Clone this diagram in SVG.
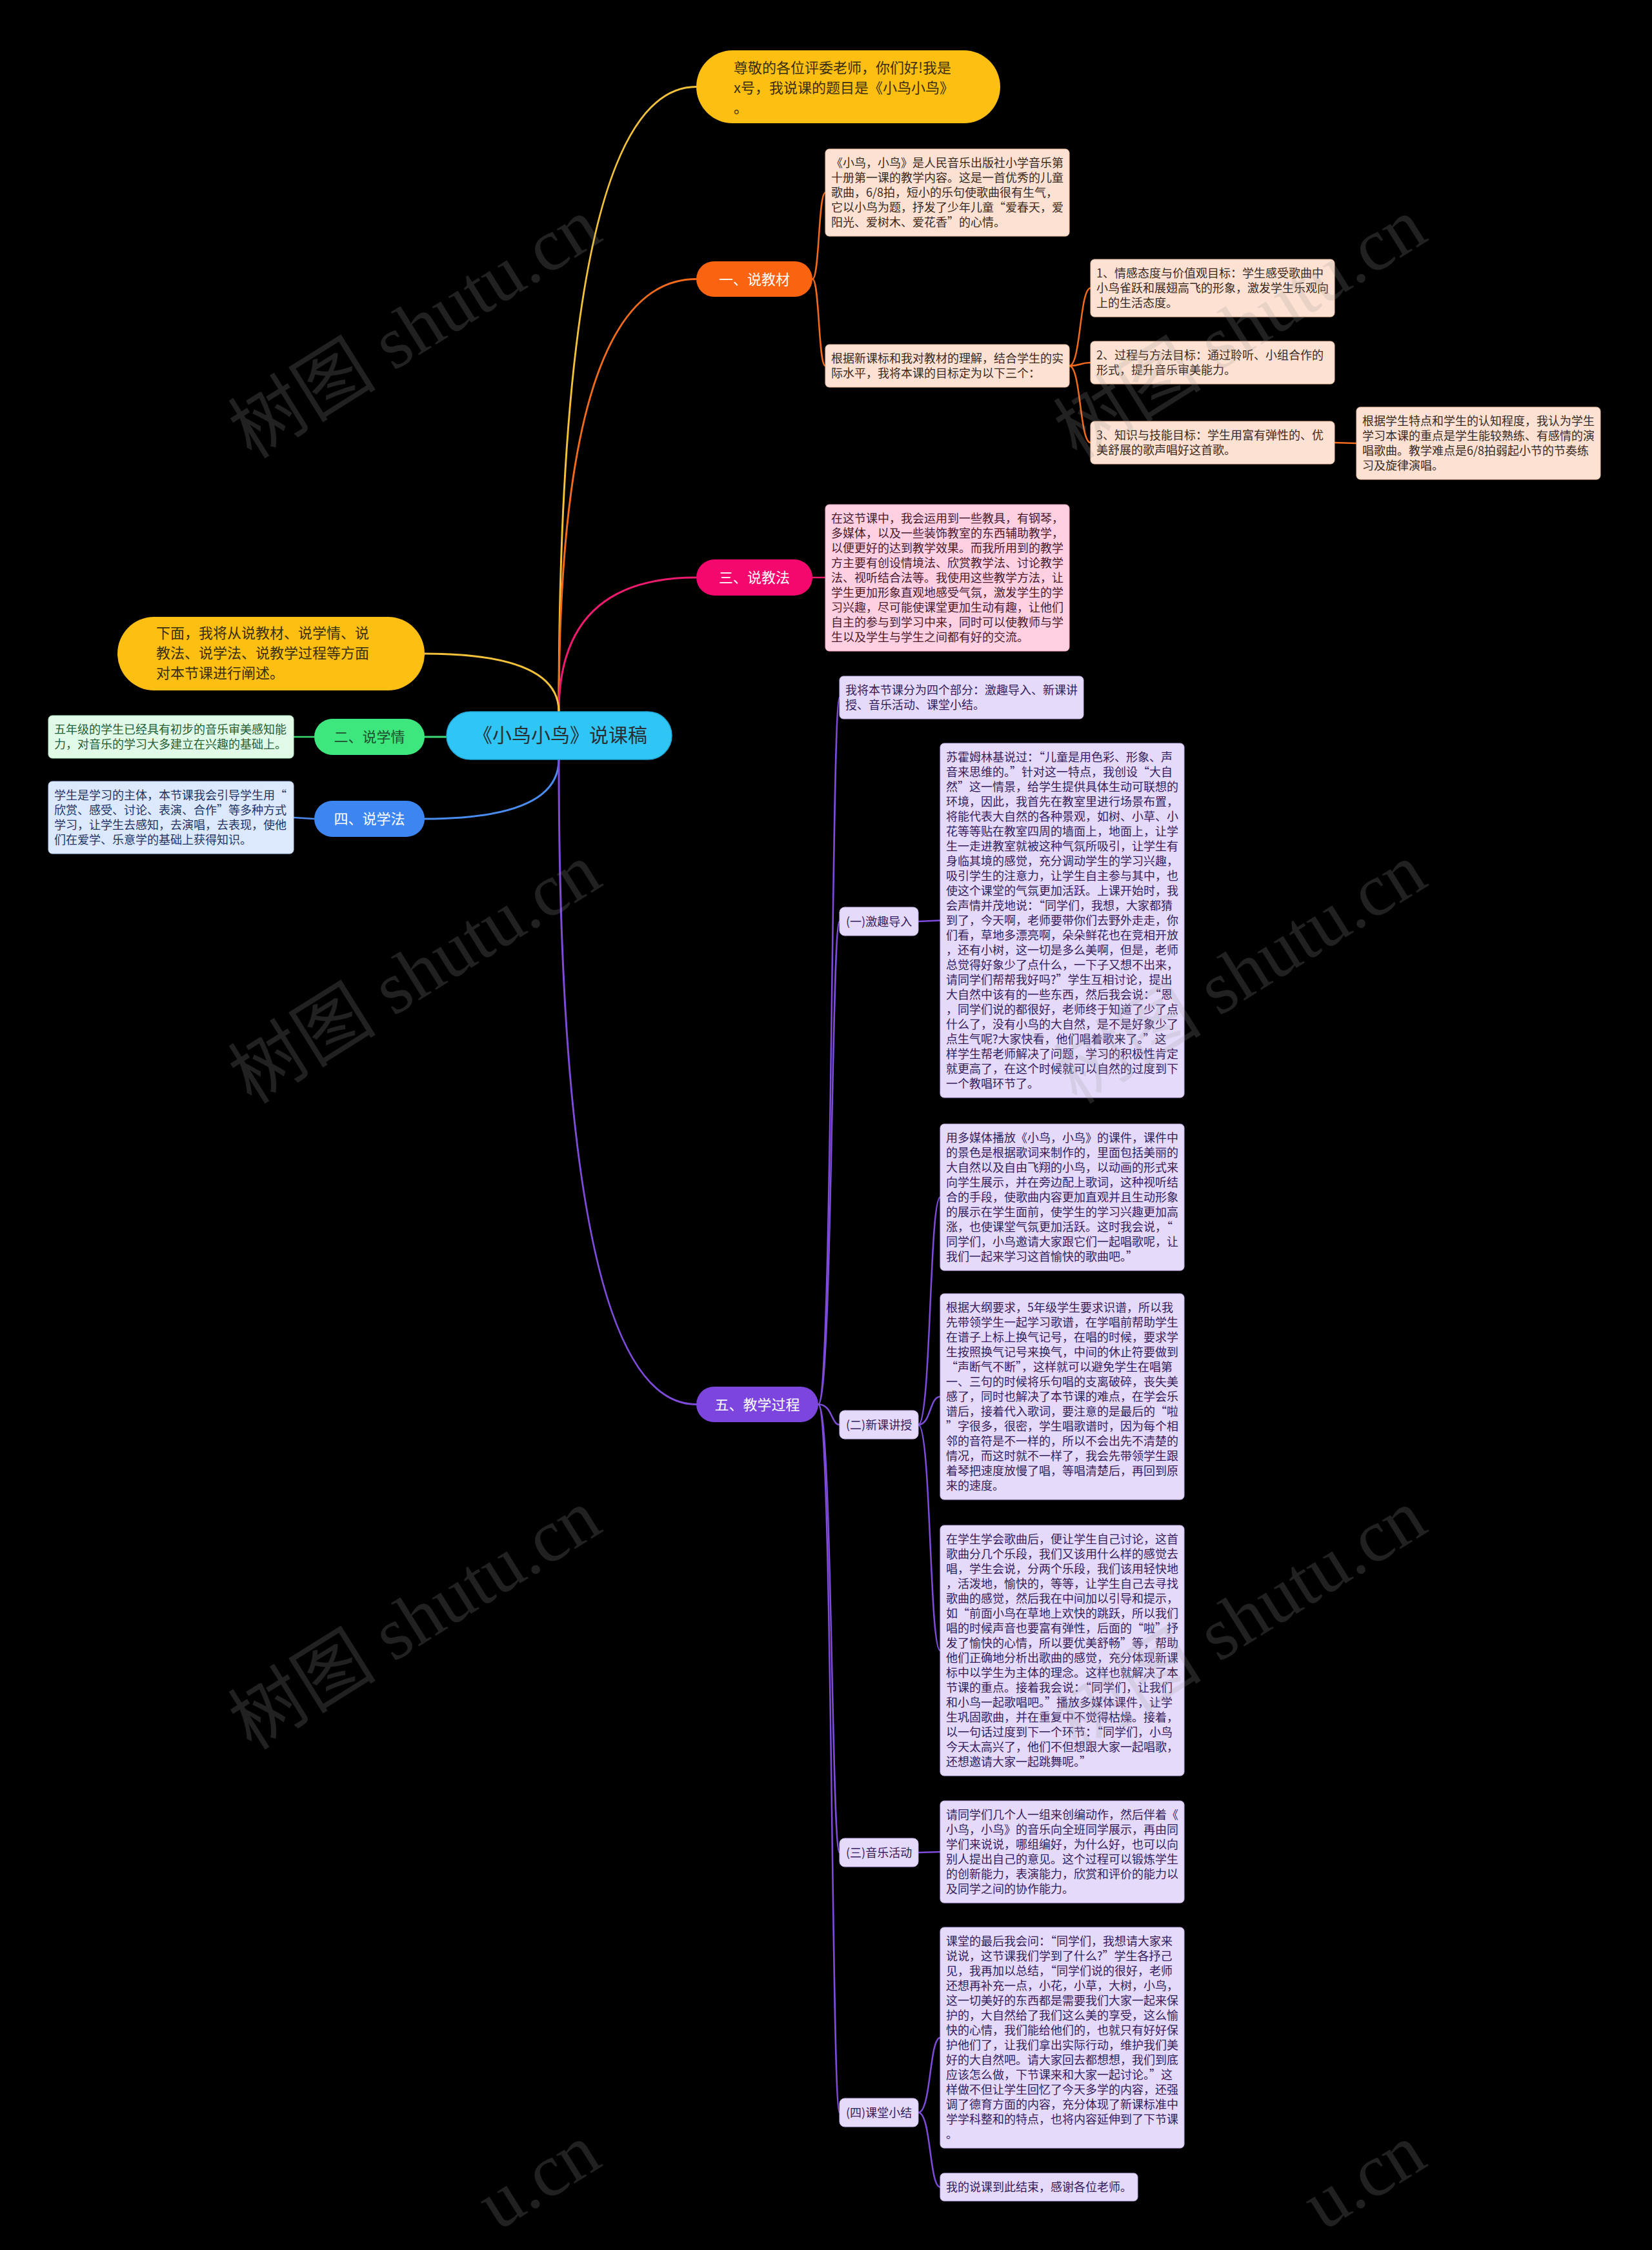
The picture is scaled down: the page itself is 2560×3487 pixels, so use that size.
<svg xmlns="http://www.w3.org/2000/svg" width="2560" height="3487" viewBox="0 0 2560 3487">
<style>
text { font-family: "Noto Sans CJK SC", "Noto Sans", sans-serif; }
.t { font-size: 18px; }
.b22 { font-size: 22px; }
.orgBox { fill: #FDE1D2; stroke: #F3C2A6; stroke-width: 1; }
.orgTxt { fill: #3A2B22; }
.pinkBox { fill: #FFD0E2; stroke: #F4A9C6; stroke-width: 1; }
.pinkTxt { fill: #4A1A2E; }
.grnBox { fill: #E1FAE8; stroke: #B8EDC8; stroke-width: 1; }
.grnTxt { fill: #245E35; }
.bluBox { fill: #DCE8FC; stroke: #B5CDF4; stroke-width: 1; }
.bluTxt { fill: #1E3566; }
.purBox { fill: #E5DAFA; stroke: #C9B6F0; stroke-width: 1; }
.purTxt { fill: #35205E; }
.conn path { fill: none; stroke-linecap: round; }
.wm { font-family: "Liberation Serif", "Noto Sans CJK SC", serif; font-size: 115px; fill: #9a9a9a; fill-opacity: 0.21; }
</style>
<rect x="0" y="0" width="2560" height="3487" fill="#000000"/>

<g id="connectors" class="conn">
  <path d="M 866 1103 Q 866 134.5 1079 134.5" stroke="#F4C23A" stroke-width="3"/>
  <path d="M 866 1103 Q 866 432.5 1079 432.5" stroke="#F26A1B" stroke-width="3"/>
  <path d="M 866 1103 Q 866 895 1079 895" stroke="#EC1B6E" stroke-width="3"/>
  <path d="M 658 1013 Q 866 1013 866 1103" stroke="#F4C23A" stroke-width="3"/>
  <path d="M 658 1142 L 692 1142" stroke="#3BD873" stroke-width="3"/>
  <path d="M 658 1269 Q 866 1269 866 1177" stroke="#4A8CF0" stroke-width="3"/>
  <path d="M 866 1177 Q 866 2176.5 1079 2176.5" stroke="#7E4BDA" stroke-width="3"/>
  <path d="M 455 1142 L 487 1142" stroke="#3BD873" stroke-width="2.5"/>
  <path d="M 455 1267 L 487 1269" stroke="#4A8CF0" stroke-width="2.5"/>
  <path d="M 1259 432.5 C 1270 432.5 1268 298.5 1279 298.5" stroke="#F26A1B" stroke-width="2.5"/>
  <path d="M 1259 432.5 C 1270 432.5 1268 567 1279 567" stroke="#F26A1B" stroke-width="2.5"/>
  <path d="M 1657 567 C 1675 567 1673 446.5 1690 446.5" stroke="#F26A1B" stroke-width="2.5"/>
  <path d="M 1657 567 C 1675 567 1673 562 1690 562" stroke="#F26A1B" stroke-width="2.5"/>
  <path d="M 1657 567 C 1675 567 1673 686 1690 686" stroke="#F26A1B" stroke-width="2.5"/>
  <path d="M 2068 686 L 2102 687" stroke="#F26A1B" stroke-width="2.5"/>
  <path d="M 1259 895 L 1279 895" stroke="#EC1B6E" stroke-width="2.5"/>
  <path d="M 1268 2176.5 C 1290 2176.5 1288 1081 1301 1081" stroke="#7E4BDA" stroke-width="2.5"/>
  <path d="M 1268 2176.5 C 1290 2176.5 1288 1428 1301 1428" stroke="#7E4BDA" stroke-width="2.5"/>
  <path d="M 1268 2176.5 C 1290 2176.5 1288 2208 1301 2208" stroke="#7E4BDA" stroke-width="2.5"/>
  <path d="M 1268 2176.5 C 1290 2176.5 1288 2871 1301 2871" stroke="#7E4BDA" stroke-width="2.5"/>
  <path d="M 1268 2176.5 C 1290 2176.5 1288 3274 1301 3274" stroke="#7E4BDA" stroke-width="2.5"/>
  <path d="M 1423 1428 L 1457 1426.5" stroke="#7E4BDA" stroke-width="2.5"/>
  <path d="M 1423 2208 C 1443 2208 1440 1855.5 1457 1855.5" stroke="#7E4BDA" stroke-width="2.5"/>
  <path d="M 1423 2208 C 1443 2208 1440 2164.5 1457 2164.5" stroke="#7E4BDA" stroke-width="2.5"/>
  <path d="M 1423 2208 C 1443 2208 1440 2558 1457 2558" stroke="#7E4BDA" stroke-width="2.5"/>
  <path d="M 1423 2871 L 1457 2870" stroke="#7E4BDA" stroke-width="2.5"/>
  <path d="M 1423 3274 C 1443 3274 1440 3158 1457 3158" stroke="#7E4BDA" stroke-width="2.5"/>
  <path d="M 1423 3274 C 1443 3274 1440 3389.5 1457 3389.5" stroke="#7E4BDA" stroke-width="2.5"/>
</g>

<g id="center">
  <rect x="692" y="1103" width="349" height="74" rx="37" fill="#2FC6F5" stroke="#22A9D8" stroke-width="1.5"/>
  <text x="868" y="1150" font-size="30" text-anchor="middle" fill="#2A2F33">《小鸟小鸟》说课稿</text>
</g>

<g id="intro">
  <rect x="1079" y="78" width="471" height="113" rx="56.5" fill="#FDBF12"/>
  <text class="b22" fill="#3A2E12">
    <tspan x="1137" y="113">尊敬的各位评委老师，你们好!我是</tspan>
    <tspan x="1137" y="144">x号，我说课的题目是《小鸟小鸟》</tspan>
    <tspan x="1137" y="175">。</tspan>
  </text>
</g>

<g id="overview">
  <rect x="182" y="956" width="476" height="114" rx="57" fill="#FDBF12"/>
  <text class="b22" fill="#3A2E12">
    <tspan x="242" y="989">下面，我将从说教材、说学情、说</tspan>
    <tspan x="242" y="1020">教法、说学法、说教学过程等方面</tspan>
    <tspan x="242" y="1051">对本节课进行阐述。</tspan>
  </text>
</g>

<g id="b1">
  <rect x="1079" y="405" width="180" height="55" rx="27.5" fill="#FA6410"/>
  <text class="b22" x="1169" y="440.5" text-anchor="middle" fill="#FFFFFF">一、说教材</text>
</g>
<g id="b1-text">
  <rect class="orgBox" x="1279" y="231" width="378" height="135" rx="6"/>
  <text class="t orgTxt">
    <tspan x="1288" y="259">《小鸟，小鸟》是人民音乐出版社小学音乐第</tspan>
    <tspan x="1288" y="282">十册第一课的教学内容。这是一首优秀的儿童</tspan>
    <tspan x="1288" y="305">歌曲，6/8拍，短小的乐句使歌曲很有生气，</tspan>
    <tspan x="1288" y="328">它以小鸟为题，抒发了少年儿童“爱春天，爱</tspan>
    <tspan x="1288" y="351">阳光、爱树木、爱花香”的心情。</tspan>
  </text>
</g>
<g id="b1-goals">
  <rect class="orgBox" x="1279" y="534" width="378" height="66" rx="6"/>
  <text class="t orgTxt">
    <tspan x="1288" y="562">根据新课标和我对教材的理解，结合学生的实</tspan>
    <tspan x="1288" y="585">际水平，我将本课的目标定为以下三个：</tspan>
  </text>
</g>
<g id="goal1">
  <rect class="orgBox" x="1690" y="402" width="378" height="89" rx="6"/>
  <text class="t orgTxt">
    <tspan x="1699" y="430">1、情感态度与价值观目标：学生感受歌曲中</tspan>
    <tspan x="1699" y="453">小鸟雀跃和展翅高飞的形象，激发学生乐观向</tspan>
    <tspan x="1699" y="476">上的生活态度。</tspan>
  </text>
</g>
<g id="goal2">
  <rect class="orgBox" x="1690" y="529" width="378" height="66" rx="6"/>
  <text class="t orgTxt">
    <tspan x="1699" y="557">2、过程与方法目标：通过聆听、小组合作的</tspan>
    <tspan x="1699" y="580">形式，提升音乐审美能力。</tspan>
  </text>
</g>
<g id="goal3">
  <rect class="orgBox" x="1690" y="653" width="378" height="66" rx="6"/>
  <text class="t orgTxt">
    <tspan x="1699" y="681">3、知识与技能目标：学生用富有弹性的、优</tspan>
    <tspan x="1699" y="704">美舒展的歌声唱好这首歌。</tspan>
  </text>
</g>
<g id="keypoints">
  <rect class="orgBox" x="2102" y="631" width="378" height="112" rx="6"/>
  <text class="t orgTxt">
    <tspan x="2111" y="659">根据学生特点和学生的认知程度，我认为学生</tspan>
    <tspan x="2111" y="682">学习本课的重点是学生能较熟练、有感情的演</tspan>
    <tspan x="2111" y="705">唱歌曲。教学难点是6/8拍弱起小节的节奏练</tspan>
    <tspan x="2111" y="728">习及旋律演唱。</tspan>
  </text>
</g>

<g id="b3">
  <rect x="1079" y="867" width="180" height="56" rx="28" fill="#F5086E"/>
  <text class="b22" x="1169" y="903" text-anchor="middle" fill="#FFFFFF">三、说教法</text>
</g>
<g id="b3-text">
  <rect class="pinkBox" x="1279" y="782" width="378" height="227" rx="6"/>
  <text class="t pinkTxt">
    <tspan x="1288" y="810">在这节课中，我会运用到一些教具，有钢琴，</tspan>
    <tspan x="1288" y="833">多媒体，以及一些装饰教室的东西辅助教学，</tspan>
    <tspan x="1288" y="856">以便更好的达到教学效果。而我所用到的教学</tspan>
    <tspan x="1288" y="879">方主要有创设情境法、欣赏教学法、讨论教学</tspan>
    <tspan x="1288" y="902">法、视听结合法等。我使用这些教学方法，让</tspan>
    <tspan x="1288" y="925">学生更加形象直观地感受气氛，激发学生的学</tspan>
    <tspan x="1288" y="948">习兴趣，尽可能使课堂更加生动有趣，让他们</tspan>
    <tspan x="1288" y="971">自主的参与到学习中来，同时可以使教师与学</tspan>
    <tspan x="1288" y="994">生以及学生与学生之间都有好的交流。</tspan>
  </text>
</g>

<g id="b2">
  <rect x="487" y="1114" width="171" height="56" rx="28" fill="#3EE67E"/>
  <text class="b22" x="572.5" y="1150" text-anchor="middle" fill="#1F4E2C">二、说学情</text>
</g>
<g id="b2-text">
  <rect class="grnBox" x="75" y="1109" width="380" height="66" rx="6"/>
  <text class="t grnTxt">
    <tspan x="84" y="1137">五年级的学生已经具有初步的音乐审美感知能</tspan>
    <tspan x="84" y="1160">力，对音乐的学习大多建立在兴趣的基础上。</tspan>
  </text>
</g>

<g id="b4">
  <rect x="487" y="1241" width="171" height="56" rx="28" fill="#3D86F2"/>
  <text class="b22" x="572.5" y="1277" text-anchor="middle" fill="#FFFFFF">四、说学法</text>
</g>
<g id="b4-text">
  <rect class="bluBox" x="75" y="1211" width="380" height="112" rx="6"/>
  <text class="t bluTxt">
    <tspan x="84" y="1239">学生是学习的主体，本节课我会引导学生用“</tspan>
    <tspan x="84" y="1262">欣赏、感受、讨论、表演、合作”等多种方式</tspan>
    <tspan x="84" y="1285">学习，让学生去感知，去演唱，去表现，使他</tspan>
    <tspan x="84" y="1308">们在爱学、乐意学的基础上获得知识。</tspan>
  </text>
</g>

<g id="b5">
  <rect x="1079" y="2149" width="189" height="55" rx="27.5" fill="#7B45DE"/>
  <text class="b22" x="1173.5" y="2184.5" text-anchor="middle" fill="#FFFFFF">五、教学过程</text>
</g>
<g id="b5-parts">
  <rect class="purBox" x="1301" y="1048" width="378" height="66" rx="6"/>
  <text class="t purTxt">
    <tspan x="1310" y="1076">我将本节课分为四个部分：激趣导入、新课讲</tspan>
    <tspan x="1310" y="1099">授、音乐活动、课堂小结。</tspan>
  </text>
</g>

<g id="s1">
  <rect class="purBox" x="1301" y="1406" width="122" height="44" rx="8"/>
  <text class="t purTxt" x="1311" y="1434.5">(一)激趣导入</text>
</g>
<g id="s1-text">
  <rect class="purBox" x="1457" y="1152" width="378" height="549" rx="6"/>
  <text class="t purTxt">
    <tspan x="1466" y="1180">苏霍姆林基说过：“儿童是用色彩、形象、声</tspan>
    <tspan x="1466" y="1203">音来思维的。”针对这一特点，我创设“大自</tspan>
    <tspan x="1466" y="1226">然”这一情景，给学生提供具体生动可联想的</tspan>
    <tspan x="1466" y="1249">环境，因此，我首先在教室里进行场景布置，</tspan>
    <tspan x="1466" y="1272">将能代表大自然的各种景观，如树、小草、小</tspan>
    <tspan x="1466" y="1295">花等等贴在教室四周的墙面上，地面上，让学</tspan>
    <tspan x="1466" y="1318">生一走进教室就被这种气氛所吸引，让学生有</tspan>
    <tspan x="1466" y="1341">身临其境的感觉，充分调动学生的学习兴趣，</tspan>
    <tspan x="1466" y="1364">吸引学生的注意力，让学生自主参与其中，也</tspan>
    <tspan x="1466" y="1387">使这个课堂的气氛更加活跃。上课开始时，我</tspan>
    <tspan x="1466" y="1410">会声情并茂地说：“同学们，我想，大家都猜</tspan>
    <tspan x="1466" y="1433">到了，今天啊，老师要带你们去野外走走，你</tspan>
    <tspan x="1466" y="1456">们看，草地多漂亮啊，朵朵鲜花也在竞相开放</tspan>
    <tspan x="1466" y="1479">，还有小树，这一切是多么美啊，但是，老师</tspan>
    <tspan x="1466" y="1502">总觉得好象少了点什么，一下子又想不出来，</tspan>
    <tspan x="1466" y="1525">请同学们帮帮我好吗?”学生互相讨论，提出</tspan>
    <tspan x="1466" y="1548">大自然中该有的一些东西，然后我会说：“恩</tspan>
    <tspan x="1466" y="1571">，同学们说的都很好，老师终于知道了少了点</tspan>
    <tspan x="1466" y="1594">什么了，没有小鸟的大自然，是不是好象少了</tspan>
    <tspan x="1466" y="1617">点生气呢?大家快看，他们唱着歌来了。”这</tspan>
    <tspan x="1466" y="1640">样学生帮老师解决了问题，学习的积极性肯定</tspan>
    <tspan x="1466" y="1663">就更高了，在这个时候就可以自然的过度到下</tspan>
    <tspan x="1466" y="1686">一个教唱环节了。</tspan>
  </text>
</g>

<g id="s2">
  <rect class="purBox" x="1301" y="2186" width="122" height="44" rx="8"/>
  <text class="t purTxt" x="1311" y="2214.5">(二)新课讲授</text>
</g>
<g id="s2-text1">
  <rect class="purBox" x="1457" y="1742" width="378" height="227" rx="6"/>
  <text class="t purTxt">
    <tspan x="1466" y="1770">用多媒体播放《小鸟，小鸟》的课件，课件中</tspan>
    <tspan x="1466" y="1793">的景色是根据歌词来制作的，里面包括美丽的</tspan>
    <tspan x="1466" y="1816">大自然以及自由飞翔的小鸟，以动画的形式来</tspan>
    <tspan x="1466" y="1839">向学生展示，并在旁边配上歌词，这种视听结</tspan>
    <tspan x="1466" y="1862">合的手段，使歌曲内容更加直观并且生动形象</tspan>
    <tspan x="1466" y="1885">的展示在学生面前，使学生的学习兴趣更加高</tspan>
    <tspan x="1466" y="1908">涨，也使课堂气氛更加活跃。这时我会说，“</tspan>
    <tspan x="1466" y="1931">同学们，小鸟邀请大家跟它们一起唱歌呢，让</tspan>
    <tspan x="1466" y="1954">我们一起来学习这首愉快的歌曲吧。”</tspan>
  </text>
</g>
<g id="s2-text2">
  <rect class="purBox" x="1457" y="2005" width="378" height="319" rx="6"/>
  <text class="t purTxt">
    <tspan x="1466" y="2033">根据大纲要求，5年级学生要求识谱，所以我</tspan>
    <tspan x="1466" y="2056">先带领学生一起学习歌谱，在学唱前帮助学生</tspan>
    <tspan x="1466" y="2079">在谱子上标上换气记号，在唱的时候，要求学</tspan>
    <tspan x="1466" y="2102">生按照换气记号来换气，中间的休止符要做到</tspan>
    <tspan x="1466" y="2125">“声断气不断”，这样就可以避免学生在唱第</tspan>
    <tspan x="1466" y="2148">一、三句的时候将乐句唱的支离破碎，丧失美</tspan>
    <tspan x="1466" y="2171">感了，同时也解决了本节课的难点，在学会乐</tspan>
    <tspan x="1466" y="2194">谱后，接着代入歌词，要注意的是最后的“啦</tspan>
    <tspan x="1466" y="2217">”字很多，很密，学生唱歌谱时，因为每个相</tspan>
    <tspan x="1466" y="2240">邻的音符是不一样的，所以不会出先不清楚的</tspan>
    <tspan x="1466" y="2263">情况，而这时就不一样了，我会先带领学生跟</tspan>
    <tspan x="1466" y="2286">着琴把速度放慢了唱，等唱清楚后，再回到原</tspan>
    <tspan x="1466" y="2309">来的速度。</tspan>
  </text>
</g>
<g id="s2-text3">
  <rect class="purBox" x="1457" y="2364" width="378" height="388" rx="6"/>
  <text class="t purTxt">
    <tspan x="1466" y="2392">在学生学会歌曲后，便让学生自己讨论，这首</tspan>
    <tspan x="1466" y="2415">歌曲分几个乐段，我们又该用什么样的感觉去</tspan>
    <tspan x="1466" y="2438">唱，学生会说，分两个乐段，我们该用轻快地</tspan>
    <tspan x="1466" y="2461">，活泼地，愉快的，等等，让学生自己去寻找</tspan>
    <tspan x="1466" y="2484">歌曲的感觉，然后我在中间加以引导和提示，</tspan>
    <tspan x="1466" y="2507">如“前面小鸟在草地上欢快的跳跃，所以我们</tspan>
    <tspan x="1466" y="2530">唱的时候声音也要富有弹性，后面的“啦”抒</tspan>
    <tspan x="1466" y="2553">发了愉快的心情，所以要优美舒畅”等，帮助</tspan>
    <tspan x="1466" y="2576">他们正确地分析出歌曲的感觉，充分体现新课</tspan>
    <tspan x="1466" y="2599">标中以学生为主体的理念。这样也就解决了本</tspan>
    <tspan x="1466" y="2622">节课的重点。接着我会说：“同学们，让我们</tspan>
    <tspan x="1466" y="2645">和小鸟一起歌唱吧。”播放多媒体课件，让学</tspan>
    <tspan x="1466" y="2668">生巩固歌曲，并在重复中不觉得枯燥。接着，</tspan>
    <tspan x="1466" y="2691">以一句话过度到下一个环节：“同学们，小鸟</tspan>
    <tspan x="1466" y="2714">今天太高兴了，他们不但想跟大家一起唱歌，</tspan>
    <tspan x="1466" y="2737">还想邀请大家一起跳舞呢。”</tspan>
  </text>
</g>

<g id="s3">
  <rect class="purBox" x="1301" y="2849" width="122" height="44" rx="8"/>
  <text class="t purTxt" x="1311" y="2877.5">(三)音乐活动</text>
</g>
<g id="s3-text">
  <rect class="purBox" x="1457" y="2791" width="378" height="158" rx="6"/>
  <text class="t purTxt">
    <tspan x="1466" y="2819">请同学们几个人一组来创编动作，然后伴着《</tspan>
    <tspan x="1466" y="2842">小鸟，小鸟》的音乐向全班同学展示，再由同</tspan>
    <tspan x="1466" y="2865">学们来说说，哪组编好，为什么好，也可以向</tspan>
    <tspan x="1466" y="2888">别人提出自己的意见。这个过程可以锻炼学生</tspan>
    <tspan x="1466" y="2911">的创新能力，表演能力，欣赏和评价的能力以</tspan>
    <tspan x="1466" y="2934">及同学之间的协作能力。</tspan>
  </text>
</g>

<g id="s4">
  <rect class="purBox" x="1301" y="3252" width="122" height="44" rx="8"/>
  <text class="t purTxt" x="1311" y="3280.5">(四)课堂小结</text>
</g>
<g id="s4-text">
  <rect class="purBox" x="1457" y="2987" width="378" height="342" rx="6"/>
  <text class="t purTxt">
    <tspan x="1466" y="3015">课堂的最后我会问：“同学们，我想请大家来</tspan>
    <tspan x="1466" y="3038">说说，这节课我们学到了什么?”学生各抒己</tspan>
    <tspan x="1466" y="3061">见，我再加以总结，“同学们说的很好，老师</tspan>
    <tspan x="1466" y="3084">还想再补充一点，小花，小草，大树，小鸟，</tspan>
    <tspan x="1466" y="3107">这一切美好的东西都是需要我们大家一起来保</tspan>
    <tspan x="1466" y="3130">护的，大自然给了我们这么美的享受，这么愉</tspan>
    <tspan x="1466" y="3153">快的心情，我们能给他们的，也就只有好好保</tspan>
    <tspan x="1466" y="3176">护他们了，让我们拿出实际行动，维护我们美</tspan>
    <tspan x="1466" y="3199">好的大自然吧。请大家回去都想想，我们到底</tspan>
    <tspan x="1466" y="3222">应该怎么做，下节课来和大家一起讨论。”这</tspan>
    <tspan x="1466" y="3245">样做不但让学生回忆了今天多学的内容，还强</tspan>
    <tspan x="1466" y="3268">调了德育方面的内容，充分体现了新课标准中</tspan>
    <tspan x="1466" y="3291">学学科整和的特点，也将内容延伸到了下节课</tspan>
    <tspan x="1466" y="3314">。</tspan>
  </text>
</g>
<g id="s4-end">
  <rect class="purBox" x="1457" y="3368" width="306" height="43" rx="6"/>
  <text class="t purTxt" x="1466" y="3396">我的说课到此结束，感谢各位老师。</text>
</g>

<g id="watermark">
  <text class="wm" transform="translate(645 512) rotate(-32)" text-anchor="middle" dy="35">树图 shutu.cn</text>
  <text class="wm" transform="translate(1924 512) rotate(-32)" text-anchor="middle" dy="35">树图 shutu.cn</text>
  <text class="wm" transform="translate(645 1512) rotate(-32)" text-anchor="middle" dy="35">树图 shutu.cn</text>
  <text class="wm" transform="translate(1924 1512) rotate(-32)" text-anchor="middle" dy="35">树图 shutu.cn</text>
  <text class="wm" transform="translate(645 2513) rotate(-32)" text-anchor="middle" dy="35">树图 shutu.cn</text>
  <text class="wm" transform="translate(1924 2513) rotate(-32)" text-anchor="middle" dy="35">树图 shutu.cn</text>
  <text class="wm" transform="translate(645 3496) rotate(-32)" x="322" y="35" text-anchor="end">u.cn</text>
  <text class="wm" transform="translate(1924 3496) rotate(-32)" x="322" y="35" text-anchor="end">u.cn</text>
</g>
</svg>
